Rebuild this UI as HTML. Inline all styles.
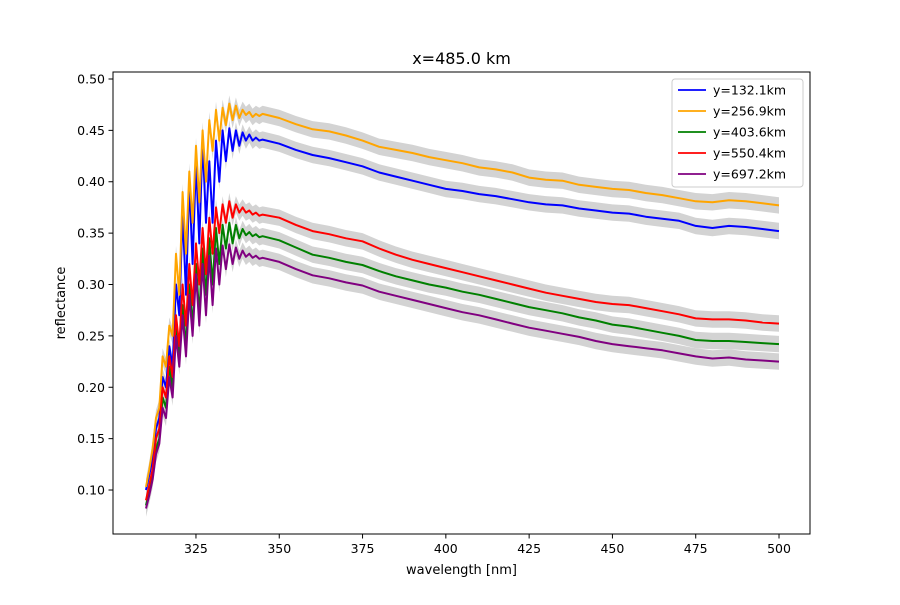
<!DOCTYPE html>
<html><head><meta charset="utf-8"><style>
body{margin:0;background:#fff;font-family:"Liberation Sans","DejaVu Sans",sans-serif}
svg text{font-family:"DejaVu Sans","Liberation Sans",sans-serif}
</style></head><body>
<svg id="chart" width="900" height="600" xmlns="http://www.w3.org/2000/svg">
<rect width="900" height="600" fill="#fff"/>
<g id="bands"></g><g id="lines"></g><g id="axes"></g>
</svg>
<script>
const wavelengths=[310,311,312,313,314,315,316,317,318,319,320,321,322,323,324,325,326,327,328,329,330,331,332,333,334,335,336,337,338,339,340,341,342,343,344,345,350,355,360,365,370,375,380,385,390,395,400,405,410,415,420,425,430,435,440,445,450,455,460,465,470,475,480,485,490,495,500];
const seriesNames=["y=132.1km","y=256.9km","y=403.6km","y=550.4km","y=697.2km"];
const seriesColors=["blue","orange","green","red","purple"];
const blueVals=[0.10,0.115,0.13,0.16,0.17,0.21,0.20,0.24,0.22,0.30,0.27,0.37,0.29,0.40,0.32,0.42,0.34,0.44,0.36,0.42,0.36,0.44,0.40,0.45,0.42,0.452,0.43,0.45,0.435,0.448,0.44,0.446,0.44,0.443,0.44,0.441,0.437,0.431,0.426,0.423,0.419,0.415,0.409,0.405,0.401,0.397,0.393,0.391,0.388,0.386,0.383,0.380,0.378,0.377,0.374,0.372,0.370,0.369,0.366,0.364,0.362,0.357,0.355,0.357,0.356,0.354,0.352];
const orangeVals=[0.103,0.12,0.14,0.17,0.18,0.23,0.22,0.26,0.25,0.33,0.29,0.39,0.33,0.41,0.36,0.435,0.38,0.45,0.40,0.46,0.43,0.47,0.44,0.472,0.455,0.476,0.46,0.474,0.462,0.47,0.465,0.468,0.463,0.466,0.464,0.466,0.462,0.456,0.451,0.449,0.445,0.440,0.434,0.431,0.428,0.424,0.421,0.418,0.414,0.412,0.409,0.404,0.402,0.401,0.397,0.395,0.393,0.392,0.389,0.387,0.384,0.381,0.380,0.382,0.381,0.379,0.377];
const greenVals=[0.085,0.10,0.115,0.14,0.15,0.19,0.18,0.22,0.20,0.26,0.23,0.28,0.24,0.30,0.26,0.32,0.27,0.335,0.29,0.345,0.30,0.355,0.32,0.358,0.335,0.36,0.34,0.358,0.345,0.354,0.348,0.351,0.347,0.349,0.346,0.347,0.343,0.336,0.329,0.326,0.322,0.319,0.313,0.308,0.304,0.300,0.297,0.293,0.290,0.286,0.282,0.278,0.275,0.272,0.268,0.265,0.261,0.259,0.256,0.253,0.250,0.246,0.245,0.245,0.244,0.243,0.242];
const redVals=[0.09,0.105,0.12,0.15,0.16,0.20,0.19,0.23,0.21,0.27,0.24,0.30,0.26,0.32,0.28,0.34,0.30,0.355,0.31,0.365,0.33,0.375,0.35,0.378,0.36,0.381,0.365,0.378,0.37,0.375,0.37,0.372,0.368,0.37,0.367,0.368,0.365,0.358,0.352,0.349,0.345,0.342,0.335,0.329,0.324,0.320,0.316,0.312,0.308,0.304,0.300,0.296,0.292,0.289,0.286,0.283,0.281,0.280,0.277,0.274,0.271,0.267,0.266,0.266,0.265,0.263,0.262];
const purpleVals=[0.082,0.095,0.11,0.135,0.145,0.18,0.17,0.21,0.19,0.25,0.22,0.27,0.23,0.29,0.25,0.31,0.26,0.32,0.27,0.328,0.28,0.335,0.30,0.338,0.315,0.339,0.32,0.336,0.325,0.333,0.327,0.33,0.326,0.328,0.325,0.326,0.322,0.315,0.309,0.306,0.302,0.299,0.293,0.289,0.285,0.281,0.277,0.273,0.270,0.266,0.262,0.258,0.255,0.252,0.249,0.245,0.242,0.240,0.238,0.236,0.233,0.230,0.228,0.229,0.227,0.226,0.225];
const allSeries=[blueVals,orangeVals,greenVals,redVals,purpleVals];
const xTicks=[325,350,375,400,425,450,475,500];
const yTicks=[0.10,0.15,0.20,0.25,0.30,0.35,0.40,0.45,0.50];
const bandHalf=0.008;

const L=113,R=810,T=72,B=534;
const xMin=300.1,xMax=509.3,yMin=0.0572,yMax=0.5068;
const x=v=>L+(v-xMin)/(xMax-xMin)*(R-L);
const y=v=>B-(v-yMin)/(yMax-yMin)*(B-T);
const NS="http://www.w3.org/2000/svg";
function mk(tag,attrs,parent){const e=document.createElementNS(NS,tag);for(const k in attrs)e.setAttribute(k,attrs[k]);parent.appendChild(e);return e;}
const bands=document.getElementById('bands'),lines=document.getElementById('lines'),axes=document.getElementById('axes');

allSeries.forEach((vals,i)=>{
  let up=wavelengths.map((w,j)=>x(w).toFixed(1)+','+y(vals[j]+bandHalf).toFixed(1));
  let dn=wavelengths.map((w,j)=>x(w).toFixed(1)+','+y(vals[j]-bandHalf).toFixed(1)).reverse();
  const b=mk('polygon',{points:up.concat(dn).join(' '),fill:'#d3d3d3'},bands);
  
  
});
allSeries.forEach((vals,i)=>{
  const p=mk('polyline',{points:wavelengths.map((w,j)=>x(w).toFixed(1)+','+y(vals[j]).toFixed(1)).join(' '),fill:'none',stroke:seriesColors[i],'stroke-width':2,'stroke-linejoin':'round'},lines);
  
  
});
const frame=mk('rect',{x:L,y:T,width:R-L,height:B-T,fill:'none',stroke:'#000','stroke-width':1},axes);


xTicks.forEach(t=>{
  const g=mk('g',{},axes);
  
  
  mk('line',{x1:x(t),x2:x(t),y1:B,y2:B+4.5,stroke:'#000'},g);
  const tx=mk('text',{x:x(t),y:B+19,'text-anchor':'middle','font-size':12.5},g);tx.textContent=t;
});
yTicks.forEach(t=>{
  const g=mk('g',{},axes);
  
  
  mk('line',{x1:L-4.5,x2:L,y1:y(t),y2:y(t),stroke:'#000'},g);
  const tx=mk('text',{x:L-8,y:y(t)+4.5,'text-anchor':'end','font-size':12.5},g);tx.textContent=t.toFixed(2);
});
const title=mk('text',{x:(L+R)/2,y:64,'text-anchor':'middle','font-size':16},axes);title.textContent='x=485.0 km';

const xl=mk('text',{x:(L+R)/2,y:574,'text-anchor':'middle','font-size':13},axes);xl.textContent='wavelength [nm]';

const yl=mk('text',{x:0,y:0,'text-anchor':'middle','font-size':13,transform:`translate(65,${(T+B)/2}) rotate(-90)`},axes);yl.textContent='reflectance';

const lg=mk('g',{},axes);

mk('rect',{x:672,y:79,width:131,height:108,rx:3,fill:'#fff','fill-opacity':0.8,stroke:'#ccc'},lg);
seriesNames.forEach((n,i)=>{
  const g=mk('g',{},lg);
  
  
  const yy=90+i*21;
  mk('line',{x1:678,x2:706,y1:yy,y2:yy,stroke:seriesColors[i],'stroke-width':1.8},g);
  const t=mk('text',{x:713,y:yy+4.5,'font-size':12.5},g);t.textContent=n;
});
</script>
</body></html>
